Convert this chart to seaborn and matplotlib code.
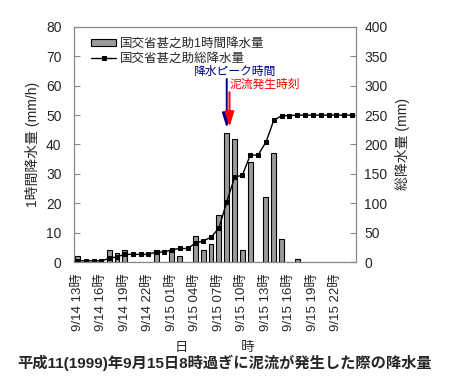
import numpy as np
import matplotlib
matplotlib.use("Agg")
import matplotlib.pyplot as plt
import seaborn as sns

# hourly rainfall (mm/h), 9/14 13時 .. 9/16 00時
hourly = [2, 0, 0, 0, 4, 3, 4, 0, 0, 0, 4, 0, 4, 2, 0, 9, 4, 6, 16, 44, 42, 4,
          34, 0, 22, 37, 8, 0, 1, 0, 0, 0, 0, 0, 0, 0]
# cumulative rainfall (mm)
total = [2, 2, 2, 2, 6, 9, 13, 13, 13, 13, 17, 17, 21, 23, 23, 32, 36, 42, 58,
         102, 144, 148, 182, 182, 204, 241, 249, 249, 250, 250, 250, 250, 250,
         250, 250, 250]
tick_labels = ["9/14 13時", "9/14 16時", "9/14 19時", "9/14 22時",
               "9/15 01時", "9/15 04時", "9/15 07時", "9/15 10時",
               "9/15 13時", "9/15 16時", "9/15 19時", "9/15 22時"]
peak_hour = 19      # 9/15 08時
flow_hour = 19.35   # 8時過ぎ

sns.set_style("white")
plt.rcParams['font.family'] = ['Liberation Sans', 'Noto Sans CJK JP']
plt.rcParams['axes.edgecolor'] = '#888888'

fig = plt.figure(figsize=(4.5, 3.91), dpi=100)
ax = fig.add_axes([0.1644, 0.3299, 0.6267, 0.6011])

idx = np.arange(len(hourly))
sns.barplot(x=idx, y=hourly, ax=ax, color='#9a9a9a', saturation=1,
            edgecolor='black', linewidth=0.8, width=0.62,
            label='国交省甚之助1時間降水量')

ax2 = ax.twinx()
sns.lineplot(x=idx, y=total, ax=ax2, color='black', linewidth=1,
             marker='s', markersize=3.2, markeredgecolor='black',
             label='国交省甚之助総降水量')

ax.set_xlim(-0.5, len(hourly) - 0.5)
ax.set_ylim(0, 80)
ax.set_yticks(np.arange(0, 81, 10))
ax2.set_ylim(0, 400)
ax2.set_yticks(np.arange(0, 401, 50))

ax.set_xticks(np.arange(0, 34, 3))
ax.set_xticklabels(tick_labels, rotation=90, fontsize=9.5)
ax.set_xticks(np.arange(0, 36, 3) - 0.5, minor=True)
ax.tick_params(axis='x', which='major', length=0, pad=8)
ax.tick_params(axis='x', which='minor', direction='in', length=4, color='#888888')
ax.tick_params(axis='y', direction='in', length=4, color='#888888', labelsize=10, pad=9)
ax2.tick_params(axis='y', direction='in', length=4, color='#888888', labelsize=10, pad=6)

ax.set_xlabel('日　　　　時', fontsize=9.5, labelpad=8)
ax.set_ylabel('1時間降水量 (mm/h)', fontsize=10, labelpad=4)
ax2.set_ylabel('総降水量 (mm)', fontsize=10, labelpad=5)

for a in (ax, ax2):
    for s in a.spines.values():
        s.set_color('#888888')
        s.set_linewidth(0.8)

# legend
h1, l1 = ax.get_legend_handles_labels()
h2, l2 = ax2.get_legend_handles_labels()
if ax2.get_legend():
    ax2.get_legend().remove()
ax.legend(h1 + h2, l1 + l2, loc='upper left', bbox_to_anchor=(0.035, 0.985),
          frameon=False, fontsize=9, handlelength=2.0, handleheight=0.5,
          labelspacing=0.2, borderaxespad=0.2, handletextpad=0.3)

# annotations
ax.text(peak_hour + 1.0, 64.6, '降水ピーク時間', color='#00008b',
        fontsize=8.5, ha='center', va='center')
ax.annotate('', xy=(peak_hour, 45.6), xytext=(peak_hour, 62.3),
            arrowprops=dict(arrowstyle='-|>,head_width=0.28,head_length=0.9',
                            color='#00008b', lw=1.4, mutation_scale=10,
                            shrinkA=0, shrinkB=0))
ax.text(flow_hour + 4.5, 60.4, '泥流発生時刻', color='#ff0000',
        fontsize=8.5, ha='center', va='center')
ax.annotate('', xy=(flow_hour, 46.0), xytext=(flow_hour, 57.8),
            arrowprops=dict(arrowstyle='-|>,head_width=0.28,head_length=0.9',
                            color='#ff0000', lw=1.4, mutation_scale=10,
                            shrinkA=0, shrinkB=0))

fig.text(0.5, 0.072, '平成11(1999)年9月15日8時過ぎに泥流が発生した際の降水量',
         ha='center', va='center', fontsize=11, fontweight='bold')

fig.savefig('out.png', dpi=100)
